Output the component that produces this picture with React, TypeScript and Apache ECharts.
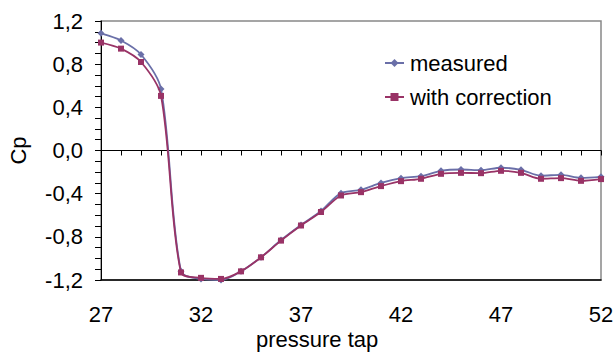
import React, { useEffect, useRef } from "react";
import * as echarts from "echarts";

const taps = ["27","28","29","30","31","32","33","34","35","36","37","38","39","40","41","42","43","44","45","46","47","48","49","50","51","52"];
const measured = [1.086, 1.02, 0.89, 0.57, -1.12, -1.19, -1.2, -1.12, -0.99, -0.83, -0.69, -0.56, -0.395, -0.364, -0.30, -0.256, -0.238, -0.188, -0.176, -0.182, -0.16, -0.179, -0.234, -0.225, -0.253, -0.244];
const corrected = [1.0, 0.944, 0.82, 0.506, -1.13, -1.18, -1.19, -1.12, -0.99, -0.835, -0.695, -0.57, -0.417, -0.386, -0.33, -0.284, -0.262, -0.216, -0.207, -0.21, -0.188, -0.207, -0.262, -0.256, -0.281, -0.265];
const seriesNames = ["measured", "with correction"];
const xTitle = "pressure tap";
const yTitle = "Cp";

const FONT = "'Liberation Sans', Arial, sans-serif";

export default function App() {
  const ref = useRef<HTMLDivElement>(null);
  useEffect(() => {
    if (!ref.current) return;
    const chart = echarts.init(ref.current, undefined, { renderer: "svg" });
    chart.setOption({
      animation: false,
      backgroundColor: "#ffffff",
      textStyle: { fontFamily: FONT },
      grid: {
        left: 101, right: 13, top: 21, bottom: 73,
        outerBoundsMode: "none",
        containLabel: false,
        show: true, borderColor: "#888888", borderWidth: 1.5,
      },
      legend: {
        orient: "vertical",
        left: 384, top: 52, padding: 0,
        itemWidth: 19, itemHeight: 10, itemGap: 12,
        textStyle: { fontFamily: FONT, fontSize: 22, color: "#000", padding: [0, 0, 0, 1] },
        data: seriesNames,
      },
      graphic: [
        {
          type: "text", left: 256, top: 328,
          style: { text: xTitle, fontSize: 22, fill: "#000", fontFamily: FONT },
        },
      ],
      xAxis: [
        {
          type: "category", data: taps, boundaryGap: false,
          axisLine: { onZero: true, lineStyle: { color: "#000", width: 1 } },
          axisTick: { show: true, interval: 0, length: 5, lineStyle: { color: "#000" } },
          axisLabel: { show: false },
          splitLine: { show: false },
        },
        {
          type: "category", data: taps, boundaryGap: false, position: "bottom",
          axisLine: { onZero: false, lineStyle: { color: "#000", width: 1.5 } },
          axisTick: { show: false },
          axisLabel: { interval: 4, fontSize: 22, color: "#000", margin: 23, fontFamily: FONT },
        },
      ],
      yAxis: {
        type: "value", min: -1.2, max: 1.2, interval: 0.4,
        axisLine: { show: true, lineStyle: { color: "#000", width: 1 } },
        axisTick: { show: true, length: 6, lineStyle: { color: "#000" } },
        minorTick: { show: true, splitNumber: 4, length: 6, lineStyle: { color: "#000" } },
        splitLine: { show: false },
        axisLabel: {
          fontSize: 22, color: "#000", margin: 18, fontFamily: FONT,
          formatter: (v: number) => (Math.abs(v) < 1e-9 ? 0 : v).toFixed(1).replace(".", ","),
        },
        name: yTitle, nameLocation: "middle", nameGap: 72, nameRotate: 90,
        nameTextStyle: { fontSize: 22, color: "#000", fontFamily: FONT },
      },
      series: [
        {
          name: seriesNames[0], type: "line", data: measured, xAxisIndex: 0,
          smooth: 0.3, symbol: "diamond", symbolSize: 7,
          itemStyle: { color: "#6a6fa8" }, lineStyle: { color: "#6a6fa8", width: 1.8 },
          z: 3,
        },
        {
          name: seriesNames[1], type: "line", data: corrected, xAxisIndex: 0,
          smooth: 0.3, symbol: "rect", symbolSize: 6,
          itemStyle: { color: "#993366" }, lineStyle: { color: "#993366", width: 1.8 },
          z: 4,
        },
      ],
    });
    return () => chart.dispose();
  }, []);
  return <div ref={ref} style={{ width: 614, height: 353, position: "absolute", left: 0, top: 0 }} />;
}
